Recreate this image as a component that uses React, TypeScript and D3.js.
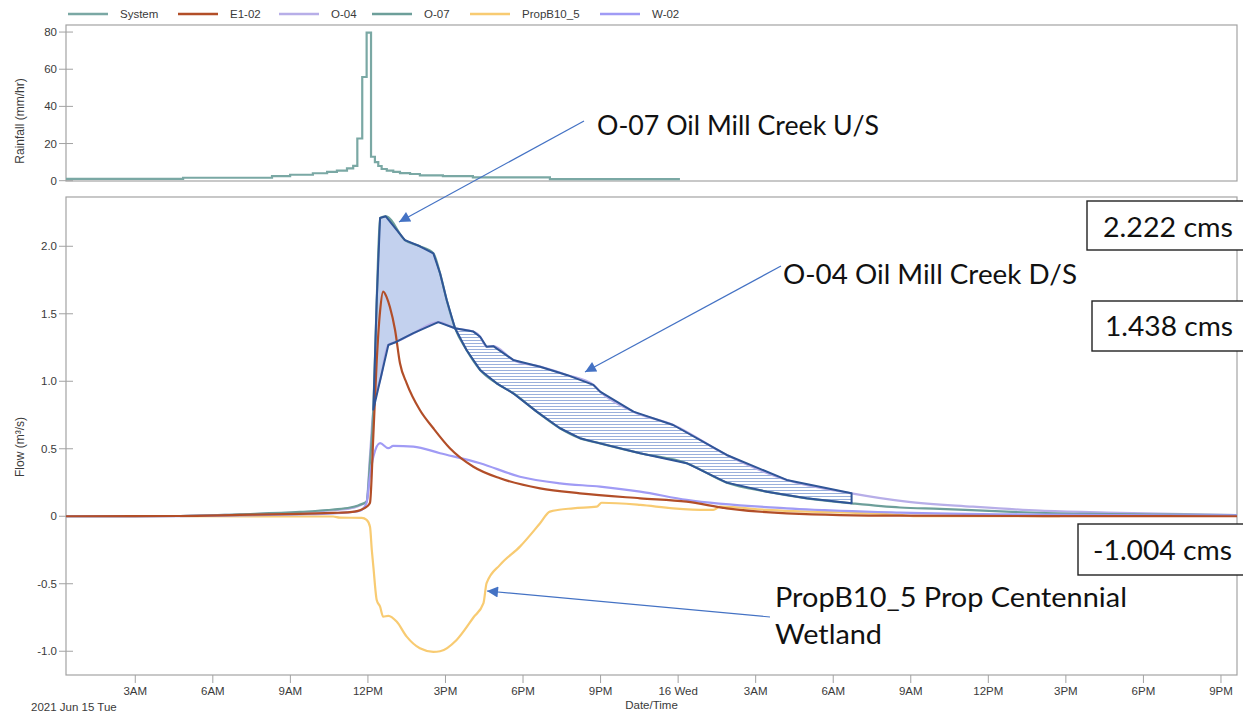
import React from 'react';
import * as d3 from 'd3';

// ---------- DATA ----------
// x in hours since 2021-06-15 00:00
const rainHours = [0.32, 4.85, 8.29, 8.99, 9.87, 10.42, 10.8, 11.19, 11.43, 11.59, 11.78, 11.95, 12.12, 12.27, 12.4, 12.53, 12.73, 12.98, 13.24, 13.63, 14.01, 14.9, 16.06, 19.04, 24.07];
const rainValues = [1.0, 1.6, 2.5, 3.2, 4.0, 4.7, 5.4, 6.6, 8.0, 22.7, 55.8, 79.7, 12.9, 10.0, 7.9, 6.3, 5.4, 4.7, 4.1, 3.6, 2.9, 2.5, 1.8, 0.9, 0.9];

const o07Hours = [0.32, 4.73, 7.05, 9.37, 10.65, 11.31, 11.62, 11.76, 11.95, 12.08, 12.21, 12.34, 12.47, 12.69, 13.43, 14.01, 14.53, 14.79, 15.05, 15.37, 15.82, 16.34, 16.98, 17.62, 18.53, 19.43, 20.2, 20.98, 22.53, 24.33, 25.88, 27.43, 28.97, 30.71, 32.58, 34.13, 36.71, 39.93, 43.14, 45.62];
const o07Values = [0, 0.002, 0.015, 0.032, 0.05, 0.065, 0.08, 0.09, 0.11, 0.4, 0.79, 1.6, 2.21, 2.222, 2.046, 2.0, 1.948, 1.8, 1.6, 1.393, 1.23, 1.084, 0.985, 0.911, 0.775, 0.652, 0.578, 0.54, 0.467, 0.393, 0.249, 0.182, 0.133, 0.096, 0.065, 0.055, 0.034, 0.017, 0.012, 0.008];

const o04Hours = [0.32, 4.73, 7.05, 9.37, 10.65, 11.31, 11.62, 11.76, 11.95, 12.08, 12.21, 12.5, 12.79, 13.11, 13.76, 14.72, 15.37, 16.08, 16.34, 16.59, 16.85, 17.62, 18.66, 19.69, 20.72, 20.98, 22.27, 23.81, 25.88, 28.2, 30.71, 32.84, 35.41, 38.0, 40.58, 45.62];
const o04Values = [0, 0.002, 0.013, 0.028, 0.045, 0.058, 0.075, 0.085, 0.11, 0.45, 0.79, 1.03, 1.269, 1.293, 1.356, 1.438, 1.393, 1.368, 1.33, 1.256, 1.26, 1.158, 1.108, 1.047, 0.973, 0.923, 0.775, 0.676, 0.454, 0.269, 0.17, 0.108, 0.071, 0.041, 0.027, 0.008];

const e102Hours = [0.32, 4.73, 7.05, 9.37, 10.65, 11.31, 11.62, 11.76, 11.95, 12.08, 12.21, 12.34, 12.47, 12.59, 12.73, 12.85, 13.05, 13.24, 13.5, 14.01, 14.53, 15.17, 16.08, 17.11, 18.66, 20.2, 22.53, 24.33, 25.88, 28.2, 32.58, 38.77, 45.62];
const e102Values = [0, 0.002, 0.01, 0.018, 0.025, 0.03, 0.04, 0.05, 0.07, 0.1, 0.6, 1.15, 1.52, 1.664, 1.62, 1.55, 1.38, 1.133, 0.985, 0.787, 0.652, 0.504, 0.367, 0.281, 0.207, 0.17, 0.133, 0.108, 0.059, 0.022, 0.004, 0.001, 0];

const w02Hours = [0.32, 4.73, 7.05, 9.37, 10.65, 11.31, 11.62, 11.76, 11.95, 12.08, 12.21, 12.47, 12.79, 12.98, 13.76, 14.79, 16.34, 17.88, 19.43, 20.98, 22.53, 24.33, 28.2, 32.58, 38.0, 45.62];
const w02Values = [0, 0.001, 0.006, 0.014, 0.022, 0.03, 0.038, 0.047, 0.1, 0.3, 0.44, 0.541, 0.504, 0.521, 0.516, 0.467, 0.393, 0.293, 0.244, 0.219, 0.182, 0.121, 0.059, 0.027, 0.012, 0.006];

const propHours = [4.73, 10.65, 10.92, 11.76, 11.95, 12.08, 12.15, 12.21, 12.34, 12.47, 12.59, 12.79, 13.11, 13.5, 14.01, 14.53, 14.79, 15.43, 16.08, 16.47, 16.59, 17.11, 17.88, 18.66, 19.04, 19.94, 20.85, 21.04, 22.53, 23.81, 25.1, 25.36, 25.62, 27.43, 32.58, 33.09, 38.77];
const propValues = [0, -0.002, -0.01, -0.012, -0.027, -0.077, -0.25, -0.373, -0.62, -0.67, -0.744, -0.738, -0.78, -0.892, -0.978, -1.004, -1.0, -0.916, -0.75, -0.644, -0.496, -0.36, -0.225, -0.052, 0.034, 0.059, 0.071, 0.1, 0.084, 0.059, 0.047, 0.047, 0.071, 0.047, 0.01, 0, 0];

const legendNames = ['System', 'E1-02', 'O-04', 'O-07', 'PropB10_5', 'W-02'];
const legendColors = ['#7aa8a4', '#b24e28', '#b7aee8', '#6d9f9a', '#f8cb72', '#a09bf5'];

const xTickHours = [3, 6, 9, 12, 15, 18, 21, 24, 27, 30, 33, 36, 39, 42, 45];
const xTickLabels = ['3AM', '6AM', '9AM', '12PM', '3PM', '6PM', '9PM', '16 Wed', '3AM', '6AM', '9AM', '12PM', '3PM', '6PM', '9PM'];
const flowTicks = [-1.0, -0.5, 0, 0.5, 1.0, 1.5, 2.0];
const flowTickLabels = ['-1.0', '-0.5', '0', '0.5', '1.0', '1.5', '2.0'];
const rainTicks = [0, 20, 40, 60, 80];

const solidRange = [12.21, 15.37];
const hatchRange = [15.37, 30.71];

const W = 1243;
const H = 714;
const L = 66;
const R = 1237;
const RT = 25;
const RB = 181;
const FT = 197;
const FB = 675;

const axisColor = '#a3a3a3';
const textColor = '#3a3a3a';
const sans = 'Liberation Sans, Arial, sans-serif';
const annFont = 'Lato, Open Sans, sans-serif';
const blue = '#4472c4';
const navy = '#2f5597';

export default function App() {
  const x = d3.scaleLinear().domain([0.32, 45.62]).range([L, R]);
  const yRain = d3.scaleLinear().domain([0, 83.8]).range([RB - 0.3, RT]);
  const yFlow = d3.scaleLinear().domain([-1.176, 2.365]).range([FB, FT]);

  const mkLine = (hs: number[], vs: number[], y: any, curve: any) =>
    d3.line<number>().x((_, i) => x(hs[i])).y((_, i) => y(vs[i])).curve(curve)(hs) || '';

  const rainPath = mkLine(rainHours, rainValues, yRain, d3.curveStepAfter);

  const series = [
    { hs: o04Hours, vs: o04Values, c: legendColors[2] },
    { hs: o07Hours, vs: o07Values, c: legendColors[3] },
    { hs: propHours, vs: propValues, c: legendColors[4] },
    { hs: w02Hours, vs: w02Values, c: legendColors[5] },
    { hs: e102Hours, vs: e102Values, c: legendColors[1] },
  ];

  const band = (uh: number[], uv: number[], lh: number[], lv: number[], r: number[]) => {
    const up: [number, number][] = [];
    uh.forEach((h, i) => { if (h >= r[0] && h <= r[1]) up.push([x(h), yFlow(uv[i])]); });
    const lo: [number, number][] = [];
    lh.forEach((h, i) => { if (h >= r[0] && h <= r[1]) lo.push([x(h), yFlow(lv[i])]); });
    const pts = up.concat(lo.reverse());
    return 'M' + pts.map((p) => p[0].toFixed(2) + ',' + p[1].toFixed(2)).join('L') + 'Z';
  };
  const solidPath = band(o07Hours, o07Values, o04Hours, o04Values, solidRange);
  const hatchPath = band(o04Hours, o04Values, o07Hours, o07Values, hatchRange);

  const legendX = [68, 178, 279, 372, 470, 600];

  return (
    <svg width={W} height={H} style={{ position: 'fixed', left: 0, top: 0, background: '#fff' }} fontFamily={sans}>
      <defs>
        <pattern id="hatch" width="8" height="3" patternUnits="userSpaceOnUse">
          <line x1="0" y1="1.5" x2="8" y2="1.5" stroke="#9ab0dc" strokeWidth="1" />
        </pattern>
        <marker id="arr" viewBox="0 0 10 10" refX="10" refY="5" markerWidth="14" markerHeight="11" markerUnits="userSpaceOnUse" orient="auto">
          <path d="M0,0L10,5L0,10Z" fill={blue} />
        </marker>
        <clipPath id="clipR"><rect x={L} y={RT} width={R - L} height={RB - RT} /></clipPath>
        <clipPath id="clipF"><rect x={L} y={FT} width={R - L} height={FB - FT} /></clipPath>
      </defs>
      <rect x={0} y={0} width={W} height={H} fill="#fff" />

      {/* legend */}
      {legendNames.map((n, i) => (
        <g key={n}>
          <line x1={legendX[i]} x2={legendX[i] + 40} y1={14} y2={14} stroke={legendColors[i]} strokeWidth={2.5} />
          <text x={legendX[i] + 52} y={18} fontSize={11.5} fill={textColor}>{n}</text>
        </g>
      ))}

      {/* rainfall panel */}
      <rect x={L} y={RT} width={R - L} height={RB - RT} fill="none" stroke={axisColor} strokeWidth={1.2} />
      {rainTicks.map((t) => (
        <g key={t}>
          <line x1={L - 7} x2={L + 7} y1={yRain(t)} y2={yRain(t)} stroke={axisColor} />
          <text x={L - 9} y={yRain(t) + 4} fontSize={11.5} textAnchor="end" fill={textColor}>{t}</text>
        </g>
      ))}
      <text transform={`translate(24,121) rotate(-90)`} fontSize={12} textAnchor="middle" fill={textColor}>Rainfall (mm/hr)</text>
      <path d={rainPath} fill="none" stroke={legendColors[0]} strokeWidth={2.2} clipPath="url(#clipR)" />

      {/* flow panel */}
      <rect x={L} y={FT} width={R - L} height={FB - FT} fill="none" stroke={axisColor} strokeWidth={1.2} />
      {flowTicks.map((t, i) => (
        <g key={t}>
          <line x1={L - 7} x2={L + 7} y1={yFlow(t)} y2={yFlow(t)} stroke={axisColor} />
          <text x={L - 9} y={yFlow(t) + 4} fontSize={11.5} textAnchor="end" fill={textColor}>{flowTickLabels[i]}</text>
        </g>
      ))}
      {xTickHours.map((h, i) => (
        <g key={h}>
          <line x1={x(h)} x2={x(h)} y1={FB} y2={FB + 8} stroke={axisColor} />
          <text x={x(h)} y={695} fontSize={11.5} textAnchor="middle" fill={textColor}>{xTickLabels[i]}</text>
        </g>
      ))}
      <text x={31} y={711} fontSize={11.5} fill={textColor}>2021 Jun 15 Tue</text>
      <text x={(L + R) / 2} y={709} fontSize={11.5} textAnchor="middle" fill={textColor}>Date/Time</text>
      <text transform={`translate(24,447) rotate(-90)`} fontSize={12} textAnchor="middle" fill={textColor}>Flow (m³/s)</text>

      <g clipPath="url(#clipF)">
        <path d={solidPath} fill="#c3d1ee" stroke="none" />
        <path d={hatchPath} fill="url(#hatch)" stroke="none" />
        {series.map((s, i) => (
          <path key={i} d={mkLine(s.hs, s.vs, yFlow, d3.curveMonotoneX)} fill="none" stroke={s.c} strokeWidth={2.2} />
        ))}
        <path d={solidPath} fill="none" stroke={navy} strokeWidth={2} strokeLinejoin="round" />
        <path d={hatchPath} fill="none" stroke={navy} strokeWidth={2} strokeLinejoin="round" />
      </g>

      {/* annotations */}
      <line x1={584} y1={121} x2={399} y2={222} stroke={blue} strokeWidth={1.2} markerEnd="url(#arr)" />
      <line x1={781} y1={266} x2={585} y2={372} stroke={blue} strokeWidth={1.2} markerEnd="url(#arr)" />
      <line x1={770} y1={617} x2={487} y2={591} stroke={blue} strokeWidth={1.2} markerEnd="url(#arr)" />

      <g fontFamily={annFont} fill="#111" fontSize={26}>
        <text x={597} y={135} textLength={282} lengthAdjust="spacingAndGlyphs">O-07 Oil Mill Creek U/S</text>
        <text x={783} y={284} textLength={294} lengthAdjust="spacingAndGlyphs">O-04 Oil Mill Creek D/S</text>
        <text x={775} y={607} textLength={352} lengthAdjust="spacingAndGlyphs">PropB10_5 Prop Centennial</text>
        <text x={775} y={644} textLength={107} lengthAdjust="spacingAndGlyphs">Wetland</text>
      </g>

      <g fontFamily={annFont} fill="#111" fontSize={26}>
        <rect x={1087} y={201} width={170} height={49} fill="#fff" stroke="#222" strokeWidth={1.4} />
        <text x={1103} y={237} textLength={130} lengthAdjust="spacingAndGlyphs">2.222 cms</text>
        <rect x={1092} y={301} width={170} height={50} fill="#fff" stroke="#222" strokeWidth={1.4} />
        <text x={1105} y={336} textLength={128} lengthAdjust="spacingAndGlyphs">1.438 cms</text>
        <rect x={1078} y={524} width={180} height={51} fill="#fff" stroke="#222" strokeWidth={1.4} />
        <text x={1093} y={560} textLength={139} lengthAdjust="spacingAndGlyphs">-1.004 cms</text>
      </g>
    </svg>
  );
}
